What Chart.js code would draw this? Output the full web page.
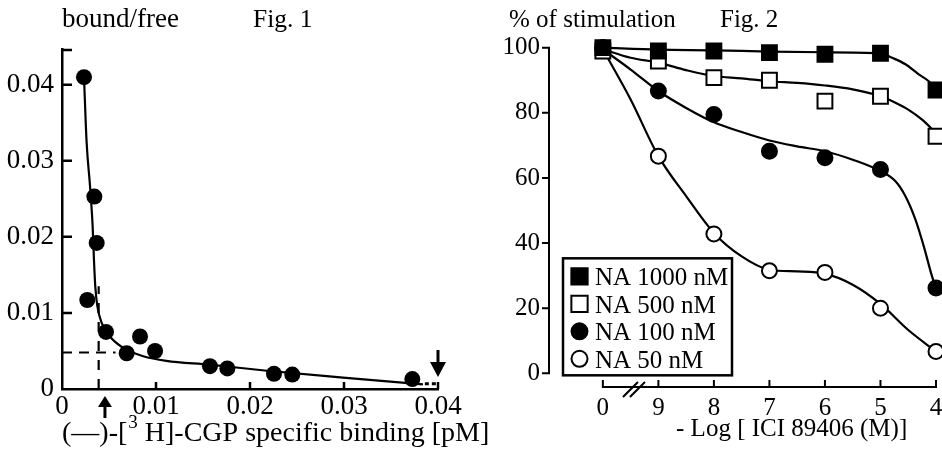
<!DOCTYPE html>
<html><head><meta charset="utf-8">
<script src="https://cdn.jsdelivr.net/npm/chart.js@4.4.0/dist/chart.umd.min.js"></script>
<style>
html,body{margin:0;padding:0;background:#fff;overflow:hidden;}
#wrap{position:relative;width:942px;height:449px;overflow:hidden;background:#fff;}
#c1{position:absolute;left:0;top:0;}
#c2{position:absolute;left:470px;top:0;}
</style></head><body>
<div id="wrap"><canvas id="c1" width="510" height="449"></canvas><canvas id="c2" width="490" height="449"></canvas></div>
<script>
// ---------- Fig. 1 data ----------
const fig1PointsX = [0.00234, 0.00344, 0.00369, 0.00269, 0.00468, 0.00688, 0.0083, 0.0099, 0.01574, 0.01759, 0.02255, 0.0245, 0.03727];
const fig1PointsY = [0.0410, 0.0253, 0.0192, 0.0117, 0.0075, 0.0047, 0.0069, 0.0050, 0.0030, 0.0027, 0.0020, 0.0019, 0.0013];
const fig1FitX = [0.00234, 0.00262, 0.00298, 0.00326, 0.0034, 0.00354, 0.00376, 0.00422, 0.0051, 0.00652, 0.00865, 0.0111, 0.0157, 0.0218, 0.0299, 0.0384];
const fig1FitY = [0.0410, 0.0324, 0.0267, 0.0214, 0.0170, 0.0135, 0.0109, 0.0087, 0.0069, 0.0054, 0.0043, 0.0037, 0.0032, 0.0024, 0.0015, 0.0006];
const fig1DashHX = [0, 0.0057];
const fig1DashHY = [0.0048, 0.0048];
const fig1DashVX = [0.0039, 0.0039];
const fig1DashVY = [0, 0.0135];
const fig1TailX = [0.0386, 0.0399];
const fig1TailY = [0.0007, 0.0007];
const fig1XTicks = [0, 0.01, 0.02, 0.03, 0.04];
const fig1XTickLabels = ['0', '0.01', '0.02', '0.03', '0.04'];
const fig1YTicks = [0, 0.01, 0.02, 0.03, 0.04];
const fig1YTickLabels = ['0', '0.01', '0.02', '0.03', '0.04'];
const fig1ArrowUpX = 0.00457;
const fig1ArrowDownX = 0.04;
const fig1YTitle = 'bound/free';
const fig1Name = 'Fig. 1';
const fig1XTitleParts = ['(\u2014)-[', '3', ' H]-CGP specific binding [pM]'];

// ---------- Fig. 2 data ----------
const fig2Categories = ['0', '9', '8', '7', '6', '5', '4'];
const fig2Positions = [0, 1, 2, 3, 4, 5, 6];
const fig2SeriesNames = ['NA 1000 nM', 'NA 500 nM', 'NA 100 nM', 'NA 50 nM'];
const na1000 = [100, 99, 99, 98.5, 98, 98.3, 87];
const na500 = [99, 95.9, 90.8, 90, 83.6, 85.1, 72.8];
const na100 = [100, 86.7, 79.5, 68.2, 66.2, 62.6, 26.2];
const na50 = [100, 66.7, 42.8, 31.5, 31, 20, 6.7];
const fit1000X = [0, 1, 2, 3, 4, 5, 5.21, 5.45, 5.69, 5.87, 6];
const fit1000Y = [100, 99.4, 99.2, 98.8, 98.6, 98.3, 96.9, 94.9, 91.8, 89.7, 87.2];
const fit500X = [0, 0.5, 1, 1.5, 2, 2.5, 3, 3.5, 4, 4.5, 5, 5.27, 5.5, 5.75, 6];
const fit500Y = [99.5, 96.9, 95.4, 93.1, 91.3, 90.6, 89.7, 89.2, 88.4, 87.2, 85.1, 83.1, 81, 77.9, 73.8];
const fit100X = [0, 0.5, 1, 1.5, 2, 2.5, 3, 3.5, 4, 4.5, 5, 5.27, 5.45, 5.63, 5.78, 5.93, 6];
const fit100Y = [99.5, 93.3, 86.7, 81.5, 77.1, 74.1, 71.5, 69.7, 68.2, 65.6, 62.1, 59, 54.4, 47.2, 39, 29.7, 26.2];
const fit50X = [0, 0.5, 1, 1.5, 2, 2.5, 3, 3.5, 4, 4.5, 5, 5.5, 6];
const fit50Y = [99.5, 84.1, 66.7, 54.4, 43.1, 35.9, 31.8, 31.3, 30.6, 27.2, 21.3, 13.3, 6.7];
const fig2YTicks = [0, 20, 40, 60, 80, 100];
const fig2YTitle = '% of stimulation';
const fig2Name = 'Fig. 2';
const fig2XTitle = '- Log [ ICI 89406 (M)]';
const fig2BreakAt = 0.56;

// ---------- common ----------
const BLACK = '#000';
const WHITE = '#fff';
const FAMILY = "'Liberation Serif','Times New Roman',serif";
const FONT = "25px " + FAMILY;
const FONT1 = "27px " + FAMILY;
Chart.defaults.font.family = FAMILY;
Chart.defaults.font.size = 25;
Chart.defaults.color = BLACK;
Chart.defaults.animation = false;
const zip = (xs, ys) => xs.map((x, i) => ({x: x, y: ys[i]}));

function arrow(ctx, x, tipY, dir, headLen, halfW, shaftLen, shaftW) {
  // dir = -1 : pointing up, +1 : pointing down
  const baseY = tipY - dir * headLen;
  ctx.beginPath();
  ctx.moveTo(x, tipY);
  ctx.lineTo(x - halfW, baseY);
  ctx.lineTo(x + halfW, baseY);
  ctx.closePath();
  ctx.fill();
  ctx.lineWidth = shaftW;
  ctx.beginPath();
  ctx.moveTo(x, baseY);
  ctx.lineTo(x, baseY - dir * shaftLen);
  ctx.stroke();
}

const fig1Deco = {
  id: 'fig1Deco',
  afterDraw(chart) {
    const {ctx, chartArea: a, scales: {x, y}} = chart;
    ctx.save();
    ctx.fillStyle = BLACK; ctx.strokeStyle = BLACK;
    ctx.textBaseline = 'alphabetic'; ctx.textAlign = 'left';
    ctx.font = FONT1;
    ctx.fillText(fig1YTitle, 62, 27);
    ctx.font = "25.5px " + FAMILY;
    ctx.fillText(fig1Name, 253, 27);
    // x title with superscript
    let tx = a.left;
    const ty = 441;
    ctx.font = "28px " + FAMILY;
    ctx.fillText(fig1XTitleParts[0], tx, ty);
    tx += ctx.measureText(fig1XTitleParts[0]).width + 1;
    ctx.font = "19px " + FAMILY;
    ctx.fillText(fig1XTitleParts[1], tx, ty - 13);
    tx += ctx.measureText(fig1XTitleParts[1]).width;
    ctx.font = "28px " + FAMILY;
    ctx.fillText(fig1XTitleParts[2], tx, ty);
    // inward ticks
    ctx.lineWidth = 2.5;
    ctx.beginPath();
    fig1YTicks.forEach(v => { if (v === 0) return; const p = y.getPixelForValue(v); ctx.moveTo(a.left, p); ctx.lineTo(a.left + 10, p); });
    ctx.moveTo(a.left, a.top + 1); ctx.lineTo(a.left + 10, a.top + 1);
    fig1XTicks.forEach(v => { if (v === 0) return; const p = x.getPixelForValue(v); ctx.moveTo(p, a.bottom); ctx.lineTo(p, a.bottom - 7); });
    ctx.stroke();
    // arrows
    arrow(ctx, x.getPixelForValue(fig1ArrowUpX), a.bottom + 7, -1, 11, 7, 11, 3);
    arrow(ctx, x.getPixelForValue(fig1ArrowDownX), a.bottom - 12, 1, 15, 8, 12, 3);
    ctx.restore();
  }
};

new Chart(document.getElementById('c1'), {
  type: 'line',
  data: {
    datasets: [
      {data: zip(fig1PointsX, fig1PointsY), showLine: false, pointStyle: 'circle', pointRadius: 8,
       pointBackgroundColor: BLACK, pointBorderColor: BLACK, pointBorderWidth: 0, clip: false},
      {data: zip(fig1FitX, fig1FitY), borderColor: BLACK, borderWidth: 2.2, pointRadius: 0,
       cubicInterpolationMode: 'monotone', clip: false},
      {data: zip(fig1DashHX, fig1DashHY), borderColor: BLACK, borderWidth: 2.2, borderDash: [10, 7], pointRadius: 0},
      {data: zip(fig1DashVX, fig1DashVY), borderColor: BLACK, borderWidth: 2.2, borderDash: [10, 9], pointRadius: 0},
      {data: zip(fig1TailX, fig1TailY), borderColor: BLACK, borderWidth: 3, borderDash: [4, 3], pointRadius: 0}
    ]
  },
  options: {
    responsive: false, animation: false,
    layout: {padding: {left: 0, top: 49, right: 72, bottom: 0}},
    plugins: {legend: {display: false}, tooltip: {enabled: false}},
    scales: {
      x: {type: 'linear', min: 0, max: 0.04,
          grid: {display: false, drawTicks: false},
          border: {display: true, color: BLACK, width: 2.5},
          ticks: {autoSkip: false, maxRotation: 0, padding: 2, color: BLACK, font: {size: 27},
                  callback: (v, i) => fig1XTickLabels[i]},
          afterBuildTicks: s => { s.ticks = fig1XTicks.map(v => ({value: v})); },
          afterFit: s => { s.height = 60; }},
      y: {type: 'linear', min: 0, max: 0.0447,
          grid: {display: false, drawTicks: false},
          border: {display: true, color: BLACK, width: 2.5},
          ticks: {autoSkip: false, padding: 8, color: BLACK, font: {size: 27},
                  callback: (v, i) => fig1YTickLabels[i]},
          afterBuildTicks: s => { s.ticks = fig1YTicks.map(v => ({value: v})); },
          afterFit: s => { s.width = 62; }}
    }
  },
  plugins: [fig1Deco]
});

// ---------- Fig. 2 ----------
const seriesStyles = [
  {pointStyle: 'rect', radius: 10.5, fill: BLACK, legendRadius: 11.5},
  {pointStyle: 'rect', radius: 10.5, fill: WHITE, legendRadius: 11.5},
  {pointStyle: 'circle', radius: 7.5, fill: BLACK, legendRadius: 8},
  {pointStyle: 'circle', radius: 7.5, fill: WHITE, legendRadius: 8}
];
const seriesValues = [na1000, na500, na100, na50];
const fitXs = [fit1000X, fit500X, fit100X, fit50X];
const fitYs = [fit1000Y, fit500Y, fit100Y, fit50Y];

const fig2Datasets = [];
seriesValues.forEach((vals, i) => {
  const st = seriesStyles[i];
  fig2Datasets.push({
    label: fig2SeriesNames[i], data: zip(fig2Positions, vals), showLine: false,
    pointStyle: st.pointStyle, pointRadius: st.radius, pointBorderWidth: 2,
    pointBackgroundColor: st.fill, pointBorderColor: BLACK, clip: false
  });
});
fitXs.forEach((xs, i) => {
  fig2Datasets.push({
    label: fig2SeriesNames[i] + ' fit', data: zip(xs, fitYs[i]), borderColor: BLACK, borderWidth: 2.2,
    pointRadius: 0, cubicInterpolationMode: 'monotone', clip: false
  });
});

const fig2Deco = {
  id: 'fig2Deco',
  afterDraw(chart) {
    const {ctx, chartArea: a, scales: {x, y}} = chart;
    ctx.save();
    ctx.fillStyle = BLACK; ctx.strokeStyle = BLACK; ctx.lineWidth = 2;
    ctx.font = FONT; ctx.textBaseline = 'alphabetic'; ctx.textAlign = 'left';
    ctx.fillText(fig2YTitle, 39, 27);
    ctx.fillText(fig2Name, 250, 27);
    // y axis
    const y0 = y.getPixelForValue(fig2YTicks[0]);
    const y1 = y.getPixelForValue(fig2YTicks[fig2YTicks.length - 1]);
    ctx.beginPath();
    ctx.moveTo(a.left, y0 + 1); ctx.lineTo(a.left, y1 - 1);
    fig2YTicks.forEach(v => { const p = y.getPixelForValue(v); ctx.moveTo(a.left + 1, p); ctx.lineTo(a.left - 7, p); });
    // x axis
    const x0 = x.getPixelForValue(fig2Positions[0]);
    const x1 = x.getPixelForValue(fig2Positions[fig2Positions.length - 1]);
    ctx.moveTo(x0 - 1, a.bottom); ctx.lineTo(x1 + 1, a.bottom);
    fig2Positions.forEach(v => { const p = x.getPixelForValue(v); ctx.moveTo(p, a.bottom + 1); ctx.lineTo(p, a.bottom - 7); });
    ctx.stroke();
    // axis break
    const bx = x.getPixelForValue(fig2BreakAt);
    ctx.beginPath();
    ctx.moveTo(bx - 11, a.bottom + 10); ctx.lineTo(bx + 4, a.bottom - 5);
    ctx.moveTo(bx - 4, a.bottom + 10); ctx.lineTo(bx + 11, a.bottom - 5);
    ctx.stroke();
    // x title
    ctx.textAlign = 'center';
    ctx.fillText(fig2XTitle, x.getPixelForValue(3.4), 436);
    // legend
    const bl = a.left + 14, bb = y0 + 2, bt = bb - 117, br = bl + 169;
    ctx.fillStyle = WHITE;
    ctx.fillRect(bl, bt, br - bl, bb - bt);
    ctx.lineWidth = 2.5; ctx.strokeStyle = BLACK;
    ctx.strokeRect(bl, bt, br - bl, bb - bt);
    ctx.textAlign = 'left';
    fig2SeriesNames.forEach((name, i) => {
      const st = seriesStyles[i];
      const cy = bt + 18 + i * 27.5;
      ctx.fillStyle = st.fill; ctx.strokeStyle = BLACK; ctx.lineWidth = 2;
      Chart.helpers.drawPoint(ctx, {pointStyle: st.pointStyle, radius: st.legendRadius, borderWidth: 2, rotation: 0}, bl + 16.5, cy);
      ctx.fillStyle = BLACK;
      ctx.fillText(name, bl + 32, cy + 9);
    });
    ctx.restore();
  }
};

new Chart(document.getElementById('c2'), {
  type: 'line',
  data: {datasets: fig2Datasets},
  options: {
    responsive: false, animation: false,
    layout: {padding: {left: 0, top: 47.7, right: 24, bottom: 0}},
    plugins: {legend: {display: false}, tooltip: {enabled: false}},
    scales: {
      x: {type: 'linear', min: -0.97, max: 6,
          grid: {display: false, drawTicks: false},
          border: {display: false},
          ticks: {autoSkip: false, maxRotation: 0, padding: 6, color: BLACK,
                  callback: (v, i) => fig2Categories[i]},
          afterBuildTicks: s => { s.ticks = fig2Positions.map(v => ({value: v})); },
          afterFit: s => { s.height = 62; }},
      y: {type: 'linear', min: -4.2, max: 100,
          grid: {display: false, drawTicks: false},
          border: {display: false},
          ticks: {autoSkip: false, padding: 9, color: BLACK,
                  callback: (v, i) => String(fig2YTicks[i])},
          afterBuildTicks: s => { s.ticks = fig2YTicks.map(v => ({value: v})); },
          afterFit: s => { s.width = 79; }}
    }
  },
  plugins: [fig2Deco]
});
</script>
</body></html>
